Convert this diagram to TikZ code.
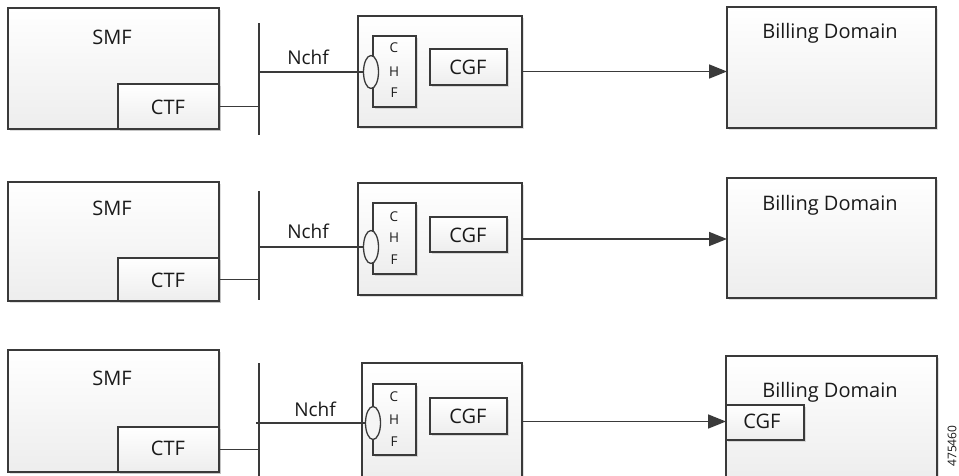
\documentclass[tikz,border=0pt]{standalone}
\usepackage{fontspec}
\setmainfont{Open Sans}
\usetikzlibrary{arrows.meta,shapes.geometric,shadows}
\definecolor{linec}{HTML}{3a3a3a}
\definecolor{txtc}{HTML}{1a1a1a}
\tikzset{
  box/.style={draw=linec, line width=1.5pt, top color=white, bottom color=black!7,
    inner sep=0pt, outer sep=0pt, anchor=north west,
    drop shadow={shadow xshift=2pt, shadow yshift=-2pt, opacity=0.12, fill=black}},
  wire/.style={draw=linec, line width=1.6pt},
  arr/.style={draw=linec, line width=1.6pt, -{Triangle[length=18pt,width=14pt]}},
  lbl/.style={text=txtc, inner sep=0pt, font=\fontsize{20}{22}\selectfont},
  small/.style={text=txtc, inner sep=0pt, font=\fontsize{13.5}{14}\selectfont},
  ell/.style={ellipse, draw=linec, line width=1.3pt, fill=black!4, inner sep=0pt,
    minimum width=15pt, minimum height=33pt},
}
\begin{document}
\begin{tikzpicture}[x=1pt,y=-1pt]
\useasboundingbox (0,0) rectangle (959,475);
\clip (0,0) rectangle (959,475);
\fill[white] (0,0) rectangle (959,475);

% ================= Row 1 =================
\node[box, minimum width=211pt, minimum height=121pt] (smf1) at (8,8) {};
\node[box, minimum width=101pt, minimum height=45pt] (ctf1) at (118,84) {};
\node[lbl] (smf1t) at (112,37) {SMF};
\node[lbl] (ctf1t) at (168,107) {CTF};
\coordinate (bus1t) at (259,23);
\coordinate (bus1b) at (259,135);
\draw[wire] (bus1t) -- (bus1b);
\draw[wire] (ctf1.east) -- (ctf1.east -| bus1t);
\node[box, minimum width=164pt, minimum height=111pt] (chf1) at (358,16) {};
\node[box, minimum width=43pt, minimum height=71pt] (chfb1) at (373,36) {};
\node[ell] (ell1) at (371,72) {};
\draw[wire] (ell1.west -| bus1t) -- (ell1.west);
\node[lbl, font=\fontsize{19}{21}\selectfont] (nchf1) at (308,57) {Nchf};
\node[small] (c1) at (394,48) {C};
\node[small] (h1) at (394,72) {H};
\node[small] (f1) at (394,93) {F};
\node[box, minimum width=77pt, minimum height=36pt] (cgf1) at (430,49) {};
\node[lbl] (cgf1t) at (468,67) {CGF};
\node[box, minimum width=209pt, minimum height=121pt] (bill1) at (727,7) {};
\node[lbl] (bill1t) at (830,33) {Billing Domain};
\draw[arr] (chf1.east) -- (chf1.east -| bill1.west);

% ================= Row 2 =================
\node[box, minimum width=211pt, minimum height=119pt] (smf2) at (8,182) {};
\node[box, minimum width=101pt, minimum height=43pt] (ctf2) at (118,258) {};
\node[lbl] (smf2t) at (112,208) {SMF};
\node[lbl] (ctf2t) at (168,280) {CTF};
\coordinate (bus2t) at (259,191);
\coordinate (bus2b) at (259,300);
\draw[wire] (bus2t) -- (bus2b);
\draw[wire] (ctf2.east) -- (ctf2.east -| bus2t);
\node[box, minimum width=164pt, minimum height=112pt] (chf2) at (358,183) {};
\node[box, minimum width=43pt, minimum height=71pt] (chfb2) at (373,203) {};
\node[ell] (ell2) at (371,247) {};
\draw[wire] (ell2.west -| bus2t) -- (ell2.west);
\node[lbl, font=\fontsize{19}{21}\selectfont] (nchf2) at (308,231) {Nchf};
\node[small] (c2) at (394,217) {C};
\node[small] (h2) at (394,238) {H};
\node[small] (f2) at (394,260) {F};
\node[box, minimum width=77pt, minimum height=35pt] (cgf2) at (430,217) {};
\node[lbl] (cgf2t) at (468,235) {CGF};
\node[box, minimum width=209pt, minimum height=120pt] (bill2) at (727,178) {};
\node[lbl] (bill2t) at (830,205) {Billing Domain};
\draw[arr] (chf2.east) -- (chf2.east -| bill2.west);

% ================= Row 3 =================
\node[box, minimum width=211pt, minimum height=122pt] (smf3) at (8,350) {};
\node[box, minimum width=101pt, minimum height=45pt] (ctf3) at (118,427) {};
\node[lbl] (smf3t) at (112,378) {SMF};
\node[lbl] (ctf3t) at (168,448) {CTF};
\coordinate (bus3t) at (259,363);
\coordinate (bus3b) at (259,480);
\draw[wire] (bus3t) -- (bus3b);
\draw[wire] (ctf3.east) -- (ctf3.east -| bus3t);
\node[box, minimum width=160pt, minimum height=117pt] (chf3) at (362,363) {};
\node[box, minimum width=43pt, minimum height=71pt] (chfb3) at (373,384) {};
\node[ell] (ell3) at (373,423) {};
\draw[wire] ([xshift=-3pt]ell3.west -| bus3t) -- (ell3.west);
\node[lbl, font=\fontsize{19}{21}\selectfont] (nchf3) at (315,409) {Nchf};
\node[small] (c3) at (394,397) {C};
\node[small] (h3) at (394,420) {H};
\node[small] (f3) at (394,442) {F};
\node[box, minimum width=77pt, minimum height=36pt] (cgf3) at (430,398) {};
\node[lbl] (cgf3t) at (468,416) {CGF};
\node[box, minimum width=211pt, minimum height=124pt] (bill3) at (726,356) {};
\node[lbl] (bill3t) at (830,392) {Billing Domain};
\node[box, minimum width=78pt, minimum height=35pt] (cgfb3) at (726,405) {};
\node[lbl] (cgfb3t) at (762,421) {CGF};
\draw[arr] (chf3.east) -- (chf3.east -| cgfb3.west);

\node[small, rotate=90, font=\fontsize{12}{13}\selectfont] (fig) at (952,446) {475460};
\end{tikzpicture}
\end{document}
